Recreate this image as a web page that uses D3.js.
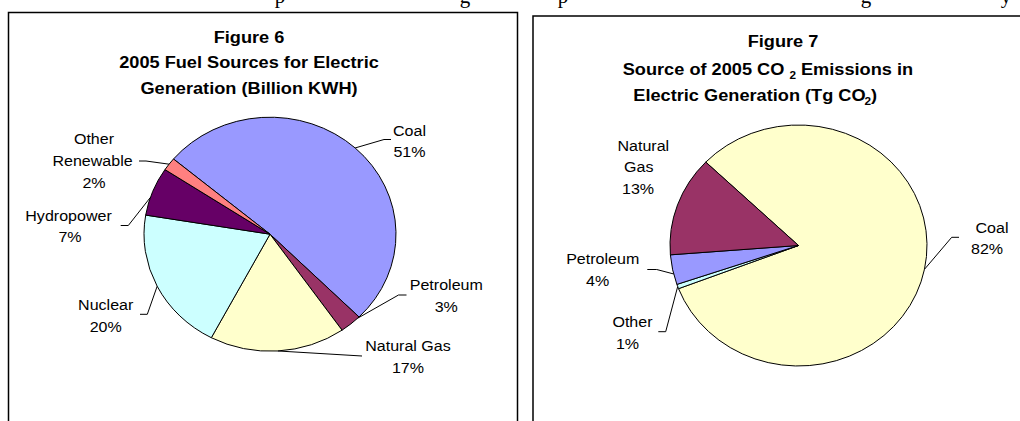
<!DOCTYPE html>
<html><head><meta charset="utf-8">
<script src="https://cdn.jsdelivr.net/npm/d3@7"></script>
<style>
body{margin:0;background:#fff}
svg{display:block}
text{font-family:Arial,"Liberation Sans",sans-serif;fill:#000}
</style>
</head><body>
<svg id="chart" width="1020" height="421"></svg>
<script>
// ---------- DATA ----------
const fig6Title = ["Figure 6", "2005 Fuel Sources for Electric", "Generation (Billion KWH)"];
const fig6Categories = ["Coal", "Petroleum", "Natural Gas", "Nuclear", "Hydropower", "Other Renewable"];
const fig6Values = [51.4, 2.8, 17.4, 19.9, 6.7, 1.8];
const fig6LabelLines = [["Coal"], ["Petroleum"], ["Natural Gas"], ["Nuclear"], ["Hydropower"], ["Other", "Renewable"]];

const fig7Title = ["Figure 7", "Source of 2005 CO 2 Emissions in", "Electric Generation (Tg CO2)"];
const fig7Categories = ["Coal", "Other", "Petroleum", "Natural Gas"];
const fig7Values = [82.0, 0.6, 4.0, 13.4];
const fig7LabelLines = [["Coal"], ["Other"], ["Petroleum"], ["Natural", "Gas"]];

// clipped fragments of the body text line above the figures (only descenders visible)
const clippedTextGlyphs = [["p", 280], ["g", 465], ["p", 563], ["g", 866], ["y", 1006]];

// ---------- STYLE / LAYOUT ----------
const fig6Colors = ["#9999FF", "#993366", "#FFFFCC", "#CCFFFF", "#660066", "#FF8080"];
const fig7Colors = ["#FFFFCC", "#CCFFFF", "#9999FF", "#993366"];
const SX = 1.07;          // horizontal stretch of the original picture
const LINE = 21.7;

const fig6Layout = {
  cx: 270, cy: 234.2, rx: 126, ry: 117, startDeg: 310,
  labels: [
    {x: 409.5, y: 135.5, dx: [0, 0], lead: [391, 139.5, 384], at: 0.5},
    {x: 446.3, y: 290,   dx: [0, 0], lead: [406.5, 295, 398.5], at: 0.08},
    {x: 408,   y: 351,   dx: [0, 0], lead: [362, 356, 362], at: 0.5},
    {x: 105.7, y: 310,   dx: [0, 0], lead: [140, 314.3, 147.3], at: 0.5},
    {x: 69,    y: 220.7, dx: [-0.5, 1], lead: [120.7, 225.5, 128.3], at: 0.37},
    {x: 93.5,  y: 144.3, dx: [0.5, -1, 0.5], lead: [139, 161, 146], at: 0.5}
  ]
};
const fig7Layout = {
  cx: 798.5, cy: 245.5, rx: 128.5, ry: 120.5, startDeg: 313.8,
  labels: [
    {x: 989.5, y: 232.5, dx: [2.5, -2.5], lead: [959, 237.3, 951.7], at: 0.5},
    {x: 630,   y: 327.3, dx: [2.5, -2.5], lead: [658.3, 331.7, 665.7], at: 0.5},
    {x: 600.5, y: 264.3, dx: [2.2, -2.8], lead: [647.3, 269.5, 656.7], at: 0.36},
    {x: 640,   y: 150.7, dx: [3.3, -1.3, -2], lead: null}
  ]
};

const svg = d3.select("#chart");

// clipped body text
svg.selectAll("text.body").data(clippedTextGlyphs).join("text")
  .attr("class", "body")
  .attr("x", d => d[1]).attr("y", 2.5)
  .attr("text-anchor", "middle")
  .style("font-family", "'Liberation Serif','Times New Roman',serif")
  .style("font-size", "21px")
  .text(d => d[0]);

// panel frames
svg.append("rect").attr("x", 8.5).attr("y", 12.5).attr("width", 509).attr("height", 500)
  .attr("fill", "none").attr("stroke", "#000").attr("stroke-width", 1.5);
svg.append("rect").attr("x", 533).attr("y", 16).attr("width", 600).attr("height", 500)
  .attr("fill", "none").attr("stroke", "#000").attr("stroke-width", 1.5);

function stretchedText(parent, x, y, anchor, size, weight) {
  return parent.append("text")
    .attr("transform", `translate(${x},${y}) scale(${SX},1)`)
    .attr("text-anchor", anchor)
    .style("font-size", size + "px")
    .style("font-weight", weight);
}

function drawPie(values, colors, labelLines, layout) {
  const total = d3.sum(values);
  const a0 = layout.startDeg * Math.PI / 180;
  const pie = d3.pie().sort(null).value(d => d).startAngle(a0).endAngle(a0 + 2 * Math.PI);
  const arcs = pie(values);
  const arc = d3.arc().innerRadius(0).outerRadius(layout.ry);
  const g = svg.append("g")
    .attr("transform", `translate(${layout.cx},${layout.cy}) scale(${layout.rx / layout.ry},1)`);
  g.selectAll("path").data(arcs).join("path")
    .attr("d", arc)
    .attr("fill", (d, i) => colors[i])
    .attr("stroke", "#000")
    .attr("stroke-width", 1)
    .attr("stroke-linejoin", "round")
    .attr("vector-effect", "non-scaling-stroke");

  arcs.forEach((a, i) => {
    const L = layout.labels[i];
    if (L.lead) {
      const ang = a.startAngle + (a.endAngle - a.startAngle) * L.at;
      const ex = layout.cx + layout.rx * Math.sin(ang);
      const ey = layout.cy - layout.ry * Math.cos(ang);
      svg.append("polyline")
        .attr("points", `${L.lead[0]},${L.lead[1]} ${L.lead[2]},${L.lead[1]} ${ex},${ey}`)
        .attr("fill", "none").attr("stroke", "#000").attr("stroke-width", 1);
    }
    const lines = labelLines[i].concat([Math.round(a.value / total * 100) + "%"]);
    const t = stretchedText(svg, L.x, L.y, "middle", 15, "normal");
    t.selectAll("tspan").data(lines).join("tspan")
      .attr("x", (d, k) => (L.dx[k] || 0) / SX)
      .attr("y", (d, k) => k * LINE)
      .text(d => d);
  });
}

// ---------- Titles ----------
// Figure 6
[[fig6Title[0], 43.3], [fig6Title[1], 68.3], [fig6Title[2], 94]].forEach(([s, y]) => {
  stretchedText(svg, 249, y, "middle", 17, "bold").text(s);
});
// Figure 7 (with subscripts)
stretchedText(svg, 783, 46.7, "middle", 17, "bold").text(fig7Title[0]);
{
  const parts = fig7Title[1].split(" 2 ");
  const t = stretchedText(svg, 622.7, 74.5, "start", 17, "bold");
  t.append("tspan").text(parts[0] + " ");
  t.append("tspan").attr("dy", 4).style("font-size", "11px").text("2");
  t.append("tspan").attr("dy", -4).text(" " + parts[1]);
}
{
  const s = fig7Title[2];
  const t = stretchedText(svg, 633.3, 101, "start", 17, "bold");
  t.append("tspan").text(s.slice(0, s.length - 2));
  t.append("tspan").attr("dy", 4).attr("dx", -1).style("font-size", "11px").text(s.slice(-2, -1));
  t.append("tspan").attr("dy", -4).text(")");
}

// ---------- Pies ----------
drawPie(fig6Values, fig6Colors, fig6LabelLines, fig6Layout);
drawPie(fig7Values, fig7Colors, fig7LabelLines, fig7Layout);
</script>
</body></html>
